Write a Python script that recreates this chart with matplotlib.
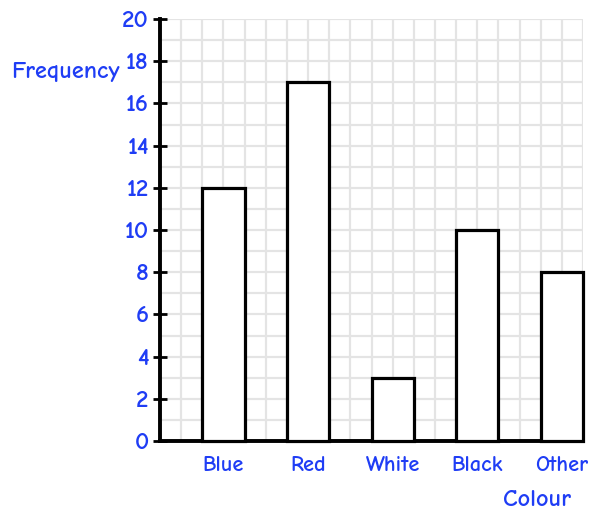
import matplotlib
matplotlib.use("Agg")
import matplotlib.pyplot as plt
import numpy as np

categories = ["Blue", "Red", "White", "Black", "Other"]
frequency = [12, 17, 3, 10, 8]
y_ticks = [0, 2, 4, 6, 8, 10, 12, 14, 16, 18, 20]

blue = "#1f3df5"
font = ["Comic Neue", "Open Sans", "DejaVu Sans"]
plt.rcParams['font.family'] = font

fig = plt.figure(figsize=(6.0, 5.14), dpi=100)
ax = fig.add_axes([160/600, 73/514, 423/600, 422/514])

positions = [3 + 4*i for i in range(len(categories))]
ax.bar(positions, frequency, width=2, facecolor="white", edgecolor="black",
       linewidth=2.3, zorder=3, clip_on=False)

ax.set_xlim(0, 20)
ax.set_ylim(0, 20)
ax.set_xticks(np.arange(0, 21, 1), minor=True)
ax.set_yticks(np.arange(0, 21, 1), minor=True)
ax.set_yticks(y_ticks)
ax.set_xticks(positions)
ax.grid(which="both", color="#e4e4e4", linewidth=1.6, zorder=0)
ax.set_axisbelow(True)

ax.set_yticklabels([str(v) for v in y_ticks], color=blue, fontsize=18, fontweight="bold")
ax.tick_params(axis="y", which="major", direction="inout", length=10, width=2, pad=3)
ax.tick_params(axis="y", which="minor", length=0)
ax.tick_params(axis="x", which="both", length=0)
ax.set_xticklabels(categories, color=blue, fontsize=16, fontweight="bold")
ax.tick_params(axis="x", which="major", pad=11)

for s in ["top", "right"]:
    ax.spines[s].set_visible(False)
ax.spines["left"].set_linewidth(2.8)
ax.spines["bottom"].set_linewidth(2.8)

fig.text(65/600, 1 - 72/514, "Frequency", color=blue, fontsize=17.5, fontweight="bold", ha="center", va="center")
fig.text(537/600, 1 - 500/514, "Colour", color=blue, fontsize=17.5, fontweight="bold", ha="center", va="center")

fig.savefig("out.png", dpi=100)
